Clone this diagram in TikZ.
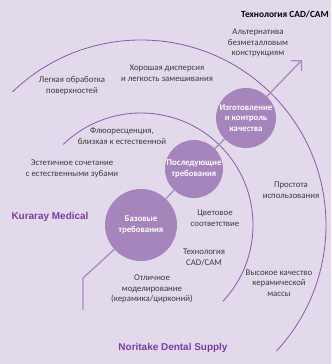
\documentclass[tikz,border=0pt]{standalone}
\usepackage{fontspec}
\setmainfont{Carlito}
\newfontfamily\brandfont{Liberation Sans}
\usetikzlibrary{positioning}
\usetikzlibrary{arrows.meta}
\definecolor{bgLilac}{HTML}{E2DAEB}
\definecolor{ballLilac}{HTML}{A585BC}
\definecolor{ringPurple}{HTML}{8A5CA8}
\definecolor{trackLilac}{HTML}{A78AC2}
\definecolor{brandPurple}{HTML}{7A3E9D}
\definecolor{noteGray}{HTML}{3A3A3A}

\begin{document}
\begin{tikzpicture}
          [
          x=0.03cm, y=0.03cm,
          Stage/.style={circle, fill=ballLilac, text=white, inner sep=0pt, align=center, font=\bfseries\fontsize{7.5}{9}\selectfont},
          Note/.style={text=noteGray, align=center, font=\fontsize{7.5}{9.2}\selectfont},
          Brand/.style={text=brandPurple, font=\brandfont\bfseries\fontsize{8.5}{10}\selectfont},
          Ring/.style={draw=ringPurple, line width=0.7pt},
          Track/.style={draw=trackLilac, line width=1.1pt},
          ]
          % Background
          \fill[bgLilac] (0, 0) rectangle (331, 364);
          \useasboundingbox (0, 0) rectangle (331, 364);

          % Nodes
          \node[Stage, minimum size=2.16cm] (Base) at (141, 139) {Базовые\\требования};
          \node[Stage, minimum size=1.74cm] (Next) at (194, 195) {Последующие\\требования};
          \node[Stage, minimum size=1.80cm] (Make) at (246, 246) {Изготовление\\и контроль\\качества};
          \coordinate (Foot) at (83, 54);
          \coordinate (Bend) at (83, 86);
          \coordinate (Tip) at (302, 304);

          \node[text=black, font=\bfseries\fontsize{8}{9}\selectfont] (CadTitle) at (285, 350) {Технология CAD/CAM};
          \node[Note] (AltNote) at (258, 321) {Альтернатива\\безметалловым\\конструкциям};
          \node[Note] (DispNote) at (167, 291) {Хорошая дисперсия\\и легкость замешивания};
          \node[Note] (SurfNote) at (72, 278) {Легкая обработка\\поверхностей};
          \node[Note] (FluoNote) at (122, 228) {Флюоресценция,\\близкая к естественной};
          \node[Note] (AesthNote) at (72, 195) {Эстетичное сочетание\\с естественными зубами};
          \node[Note] (ColorNote) at (215, 146) {Цветовое\\соответствие};
          \node[Note] (CadNote) at (204, 107) {Технология\\CAD/CAM};
          \node[Note] (ModelNote) at (152, 75) {Отличное\\моделирование\\(керамика/цирконий)};
          \node[Note] (EaseNote) at (291, 174) {Простота\\использования};
          \node[Note] (QualNote) at (279, 81) {Высокое качество\\керамической\\массы};
          \node[Brand] (Kuraray) at (50, 147) {Kuraray Medical};
          \node[Brand] (Noritake) at (173, 16) {Noritake Dental Supply};

          % Lines
          \path [Ring] (Base.center) ++(134:112) arc[start angle=134, end angle=-43, radius=3.36cm];
          \path [Ring] (Base.center) ++(134:185) arc[start angle=134, end angle=-43, radius=5.55cm];
          \path [Track] (Foot) -- (Bend) -- (Base);
          \path [Track] (Base) -- (Next);
          \path [Track] (Next) -- (Make);
          \path [Track, -{Straight Barb[angle=90:9pt]}] (Make) -- (Tip);

        \end{tikzpicture}
\end{document}
